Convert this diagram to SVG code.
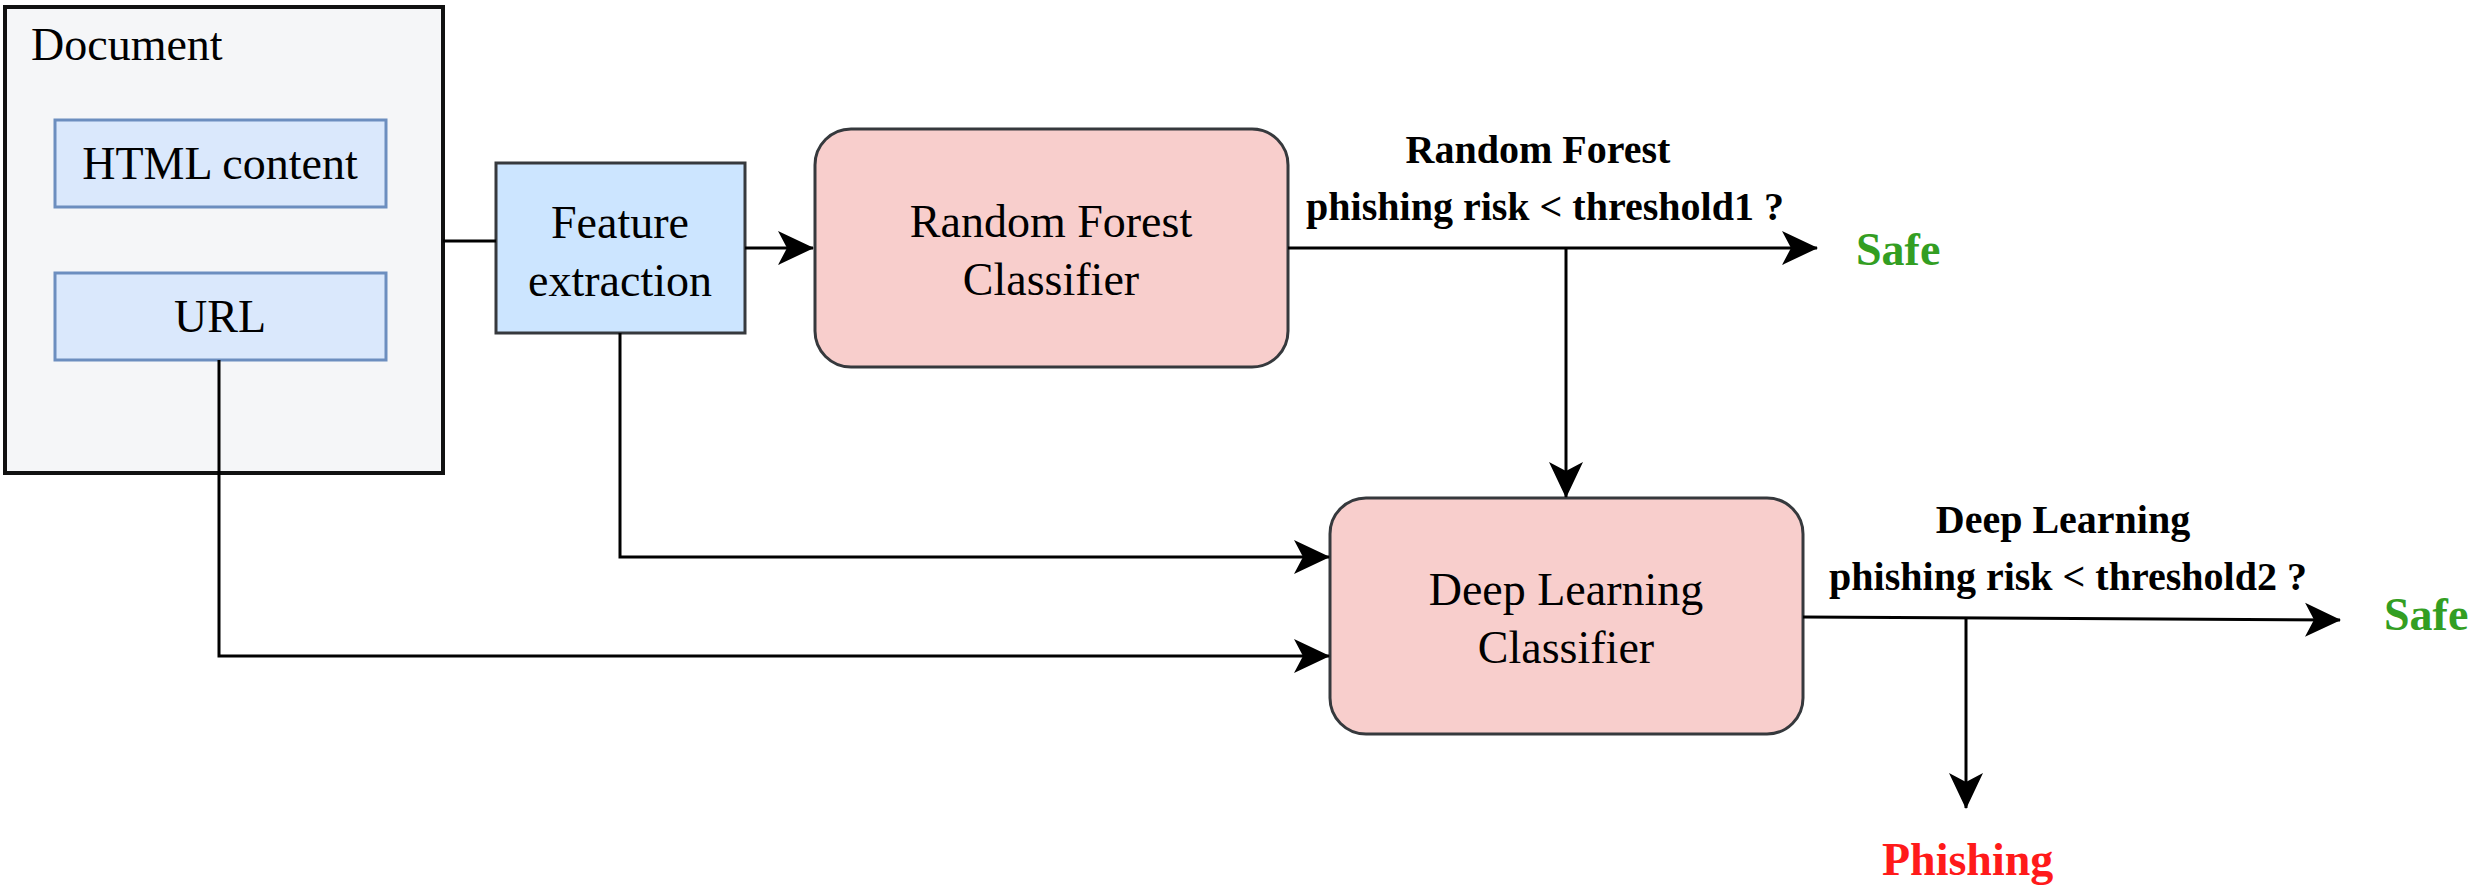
<svg xmlns="http://www.w3.org/2000/svg" width="2471" height="890" viewBox="0 0 2471 890">
<style>
.t{font-family:"Liberation Serif","Times New Roman",serif;font-size:46px;fill:#000;text-anchor:middle}
.lb{font-family:"Liberation Serif","Times New Roman",serif;font-size:40px;font-weight:bold;fill:#000;text-anchor:middle}
.out{font-family:"Liberation Serif","Times New Roman",serif;font-size:46px;font-weight:bold}
.inner{fill:#dae8fc;stroke:#6c8ebf;stroke-width:3}
.cls{fill:#f8cecc;stroke:#36393d;stroke-width:3}
.c{fill:none;stroke:#000;stroke-width:3}
</style>
<defs>
<marker id="arr" markerUnits="userSpaceOnUse" markerWidth="36" markerHeight="36" viewBox="0 0 36 36" refX="35" refY="18" orient="auto">
<path d="M0,1 L36,18 L0,35 L9,18 Z" fill="#000"/>
</marker>
</defs>
<rect width="2471" height="890" fill="#fff"/>
<g id="document">
<rect x="5" y="7" width="438" height="466" fill="#f5f6f8" stroke="#111" stroke-width="4"/>
<text x="31" y="60" class="t" style="text-anchor:start">Document</text>
</g>
<g id="html-content">
<rect x="55" y="120" width="331" height="87" class="inner"/>
<text x="220" y="179" class="t">HTML content</text>
</g>
<g id="url">
<rect x="55" y="273" width="331" height="87" class="inner"/>
<text x="220" y="332" class="t">URL</text>
</g>
<g id="feature-extraction">
<rect x="496" y="163" width="249" height="170" fill="#cce5ff" stroke="#36393d" stroke-width="3"/>
<text x="620" y="238" class="t">Feature</text>
<text x="620" y="296" class="t">extraction</text>
</g>
<g id="rf-classifier">
<rect x="815" y="129" width="473" height="238" rx="36" ry="36" class="cls"/>
<text x="1051" y="237" class="t">Random Forest</text>
<text x="1051" y="295" class="t">Classifier</text>
</g>
<g id="dl-classifier">
<rect x="1330" y="498" width="473" height="236" rx="36" ry="36" class="cls"/>
<text x="1566" y="605" class="t">Deep Learning</text>
<text x="1566" y="663" class="t">Classifier</text>
</g>
<g id="connectors">
<path class="c" d="M443,241 H496"/>
<path class="c" d="M745,248 H813" marker-end="url(#arr)"/>
<path class="c" d="M1288,248 H1817" marker-end="url(#arr)"/>
<path class="c" d="M1566,248 V497" marker-end="url(#arr)"/>
<path class="c" d="M620,333 V557 H1329" marker-end="url(#arr)"/>
<path class="c" d="M219,360 V656 H1329" marker-end="url(#arr)"/>
<path class="c" d="M1803,617 L2340,620" marker-end="url(#arr)"/>
<path class="c" d="M1966,617 V808" marker-end="url(#arr)"/>
</g>
<g id="labels">
<text x="1538" y="163" class="lb">Random Forest</text>
<text x="1545" y="220" class="lb">phishing risk &lt; threshold1 ?</text>
<text x="2063" y="533" class="lb">Deep Learning</text>
<text x="2068" y="590" class="lb">phishing risk &lt; threshold2 ?</text>
</g>
<g id="safe1"><text x="1856" y="265" class="out" fill="#339e22">Safe</text></g>
<g id="safe2"><text x="2384" y="630" class="out" fill="#339e22">Safe</text></g>
<g id="phishing"><text x="1882" y="875" class="out" fill="#ff1a1a">Phishing</text></g>
</svg>
